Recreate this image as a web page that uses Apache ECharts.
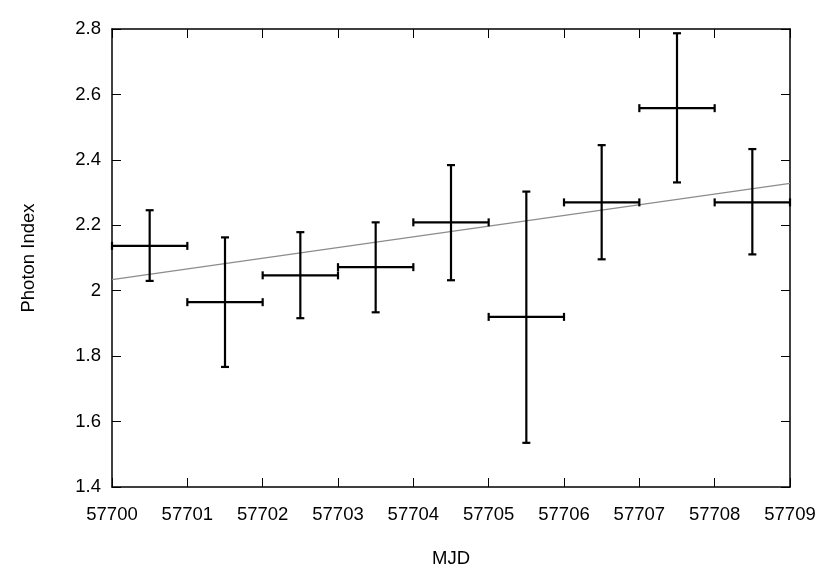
<!DOCTYPE html>
<html>
<head>
<meta charset="utf-8">
<script src="https://cdn.jsdelivr.net/npm/echarts@6/dist/echarts.min.js"></script>
<style>html,body{margin:0;padding:0;background:#fff}#c{width:830px;height:585px}</style>
</head>
<body>
<div id="c"></div>
<script>
var mjd = [57700.5, 57701.5, 57702.5, 57703.5, 57704.5, 57705.5, 57706.5, 57707.5, 57708.5];
var xErr = [0.5, 0.5, 0.5, 0.5, 0.5, 0.5, 0.5, 0.5, 0.5];
var index = [2.137, 1.965, 2.047, 2.072, 2.209, 1.920, 2.270, 2.558, 2.270];
var indexHigh = [2.246, 2.163, 2.179, 2.209, 2.384, 2.303, 2.445, 2.787, 2.433];
var indexLow = [2.030, 1.767, 1.916, 1.934, 2.032, 1.535, 2.096, 2.331, 2.111];
var fitX = [57700, 57709];
var fitY = [2.034, 2.328];

var errData = mjd.map(function (x, i) {
  return [x, index[i], x - xErr[i], x + xErr[i], indexLow[i], indexHigh[i]];
});

var font = 'Liberation Sans, Arial, Helvetica, sans-serif';
var fs = 18.5;
var chart = echarts.init(document.getElementById('c'));
chart.setOption({
  animation: false,
  backgroundColor: '#fff',
  grid: {left: 112, right: 40, top: 29, bottom: 98, containLabel: false},
  xAxis: [{
    type: 'value', min: 57700, max: 57709, interval: 1,
    name: 'MJD', nameLocation: 'middle', nameGap: 62,
    nameTextStyle: {fontSize: fs, fontFamily: font, color: '#000'},
    axisLine: {show: true, onZero: false, lineStyle: {color: '#000', width: 1.5}},
    axisTick: {show: true, inside: true, length: 9, lineStyle: {color: '#000', width: 1}},
    axisLabel: {fontSize: fs, fontFamily: font, color: '#000', margin: 18,
      formatter: function (v) { return String(Math.round(v)); }},
    splitLine: {show: false}
  }, {
    type: 'value', min: 57700, max: 57709, interval: 1, position: 'top',
    axisLine: {show: true, onZero: false, lineStyle: {color: '#000', width: 1.5}},
    axisTick: {show: true, inside: true, length: 9, lineStyle: {color: '#000', width: 1}},
    axisLabel: {show: false}, splitLine: {show: false}
  }],
  yAxis: [{
    type: 'value', min: 1.4, max: 2.8, interval: 0.2,
    name: 'Photon Index', nameLocation: 'middle', nameGap: 74,
    nameTextStyle: {fontSize: fs, fontFamily: font, color: '#000'},
    axisLine: {show: true, onZero: false, lineStyle: {color: '#000', width: 1.5}},
    axisTick: {show: true, inside: true, length: 9, lineStyle: {color: '#000', width: 1}},
    axisLabel: {fontSize: fs, fontFamily: font, color: '#000', margin: 11,
      formatter: function (v) { return String(Math.round(v * 10) / 10); }},
    splitLine: {show: false}
  }, {
    type: 'value', min: 1.4, max: 2.8, interval: 0.2, position: 'right',
    axisLine: {show: true, onZero: false, lineStyle: {color: '#000', width: 1.5}},
    axisTick: {show: true, inside: true, length: 9, lineStyle: {color: '#000', width: 1}},
    axisLabel: {show: false}, splitLine: {show: false}
  }],
  series: [{
    type: 'line', data: fitX.map(function (x, i) { return [x, fitY[i]]; }),
    symbol: 'none', lineStyle: {color: '#8c8c8c', width: 1.2}, z: 1
  }, {
    type: 'custom', data: errData, z: 2,
    renderItem: function (params, api) {
      var c = api.coord([api.value(0), api.value(1)]);
      var l = api.coord([api.value(2), api.value(1)]);
      var r = api.coord([api.value(3), api.value(1)]);
      var lo = api.coord([api.value(0), api.value(4)]);
      var hi = api.coord([api.value(0), api.value(5)]);
      var cap = 4;
      var st = {stroke: '#000', lineWidth: 2.2};
      function ln(x1, y1, x2, y2) {
        return {type: 'line', shape: {x1: x1, y1: y1, x2: x2, y2: y2}, style: st};
      }
      return {type: 'group', children: [
        ln(l[0], c[1], r[0], c[1]),
        ln(l[0], c[1] - cap, l[0], c[1] + cap),
        ln(r[0], c[1] - cap, r[0], c[1] + cap),
        ln(c[0], lo[1], c[0], hi[1]),
        ln(c[0] - cap, lo[1], c[0] + cap, lo[1]),
        ln(c[0] - cap, hi[1], c[0] + cap, hi[1])
      ]};
    }
  }]
});
</script>
</body>
</html>
